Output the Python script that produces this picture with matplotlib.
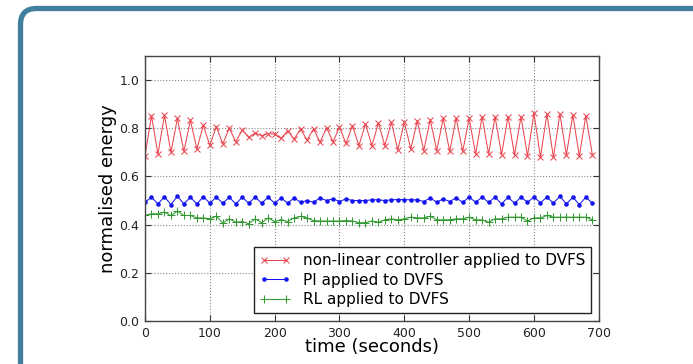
import matplotlib
matplotlib.use("Agg")
import matplotlib.pyplot as plt
from matplotlib.patches import FancyBboxPatch
from matplotlib.transforms import IdentityTransform

time_s = list(range(0, 700, 10))

nonlinear = [0.686, 0.851, 0.693, 0.854, 0.700, 0.841, 0.704, 0.834, 0.714, 0.812,
             0.729, 0.807, 0.735, 0.800, 0.744, 0.793, 0.762, 0.780, 0.769, 0.778,
             0.776, 0.758, 0.790, 0.755, 0.797, 0.751, 0.797, 0.742, 0.802, 0.744,
             0.805, 0.737, 0.811, 0.728, 0.818, 0.728, 0.822, 0.728, 0.825, 0.710,
             0.825, 0.714, 0.831, 0.707, 0.836, 0.707, 0.841, 0.704, 0.843, 0.704,
             0.841, 0.693, 0.848, 0.693, 0.848, 0.691, 0.848, 0.689, 0.848, 0.686,
             0.862, 0.680, 0.859, 0.680, 0.859, 0.689, 0.856, 0.684, 0.852, 0.691]

pi_ctrl = [0.493, 0.514, 0.486, 0.516, 0.483, 0.518, 0.486, 0.514, 0.486, 0.516,
           0.489, 0.514, 0.489, 0.514, 0.486, 0.514, 0.489, 0.514, 0.489, 0.514,
           0.489, 0.511, 0.489, 0.511, 0.493, 0.500, 0.493, 0.511, 0.500, 0.507,
           0.496, 0.507, 0.500, 0.500, 0.500, 0.503, 0.503, 0.500, 0.503, 0.504,
           0.504, 0.503, 0.503, 0.496, 0.511, 0.493, 0.507, 0.496, 0.511, 0.493,
           0.514, 0.493, 0.514, 0.493, 0.514, 0.486, 0.514, 0.489, 0.514, 0.493,
           0.514, 0.491, 0.514, 0.489, 0.518, 0.486, 0.514, 0.483, 0.514, 0.489]

rl_ctrl = [0.438, 0.445, 0.445, 0.452, 0.438, 0.456, 0.438, 0.438, 0.428, 0.428,
           0.424, 0.435, 0.406, 0.424, 0.410, 0.413, 0.404, 0.424, 0.408, 0.428,
           0.413, 0.421, 0.413, 0.428, 0.434, 0.428, 0.417, 0.415, 0.415, 0.415,
           0.415, 0.417, 0.415, 0.408, 0.408, 0.415, 0.410, 0.420, 0.424, 0.420,
           0.424, 0.431, 0.428, 0.428, 0.435, 0.420, 0.420, 0.420, 0.424, 0.424,
           0.431, 0.420, 0.420, 0.410, 0.424, 0.424, 0.431, 0.431, 0.431, 0.415,
           0.428, 0.428, 0.438, 0.431, 0.431, 0.431, 0.431, 0.431, 0.431, 0.420]

labels = ["non-linear controller applied to DVFS", "PI applied to DVFS", "RL applied to DVFS"]
xticks = [0, 100, 200, 300, 400, 500, 600, 700]
yticks = [0.0, 0.2, 0.4, 0.6, 0.8, 1.0]

fig = plt.figure(figsize=(6.93, 3.64), dpi=100)
fig.patch.set_facecolor("white")

# rounded frame (pixel coordinates)
frame = FancyBboxPatch((20.5, -60), 800, 364 - 8.5 + 60,
                       boxstyle="round,pad=0,rounding_size=16",
                       transform=IdentityTransform(), facecolor="none",
                       edgecolor="#417fa0", linewidth=3.8, zorder=-5)
fig.patches.append(frame)

ax = fig.add_axes([145 / 693, 1 - 321 / 364, (598.8 - 145) / 693, (321 - 56) / 364])
ax.set_facecolor("white")

ax.plot(time_s, nonlinear, color="#ea4650", lw=0.75, marker="x", ms=5, mew=0.75,
        label=labels[0])
ax.plot(time_s, pi_ctrl, color="#1414f0", lw=0.75, marker=".", ms=4.5,
        label=labels[1])
ax.plot(time_s, rl_ctrl, color="#339933", lw=0.75, marker="+", ms=6, mew=0.75,
        label=labels[2])

ax.set_xlim(0, 700)
ax.set_ylim(0, 1.1)
ax.set_xticks(xticks)
ax.set_yticks(yticks)
ax.set_xticklabels([str(t) for t in xticks], fontsize=9, color="#222222")
ax.set_yticklabels([f"{t:.1f}" for t in yticks], fontsize=9, color="#222222")
ax.tick_params(direction="in", top=True, right=True, length=4, width=0.8,
               color="#333333", pad=4)
ax.grid(True, linestyle=":", color="#888888", linewidth=0.8)
for s in ax.spines.values():
    s.set_color("#444444")
    s.set_linewidth(1.0)

ax.set_xlabel("time (seconds)", fontsize=13, labelpad=-1)
ax.set_ylabel("normalised energy", fontsize=13, labelpad=2)

leg = ax.legend(loc="lower right", fontsize=11, numpoints=2, fancybox=False,
                framealpha=1, edgecolor="#222222", handlelength=2.0,
                handletextpad=0.8, labelspacing=0.3, borderpad=0.4,
                borderaxespad=0.5)
leg.get_frame().set_linewidth(1.0)

fig.savefig("out.png", dpi=100)
